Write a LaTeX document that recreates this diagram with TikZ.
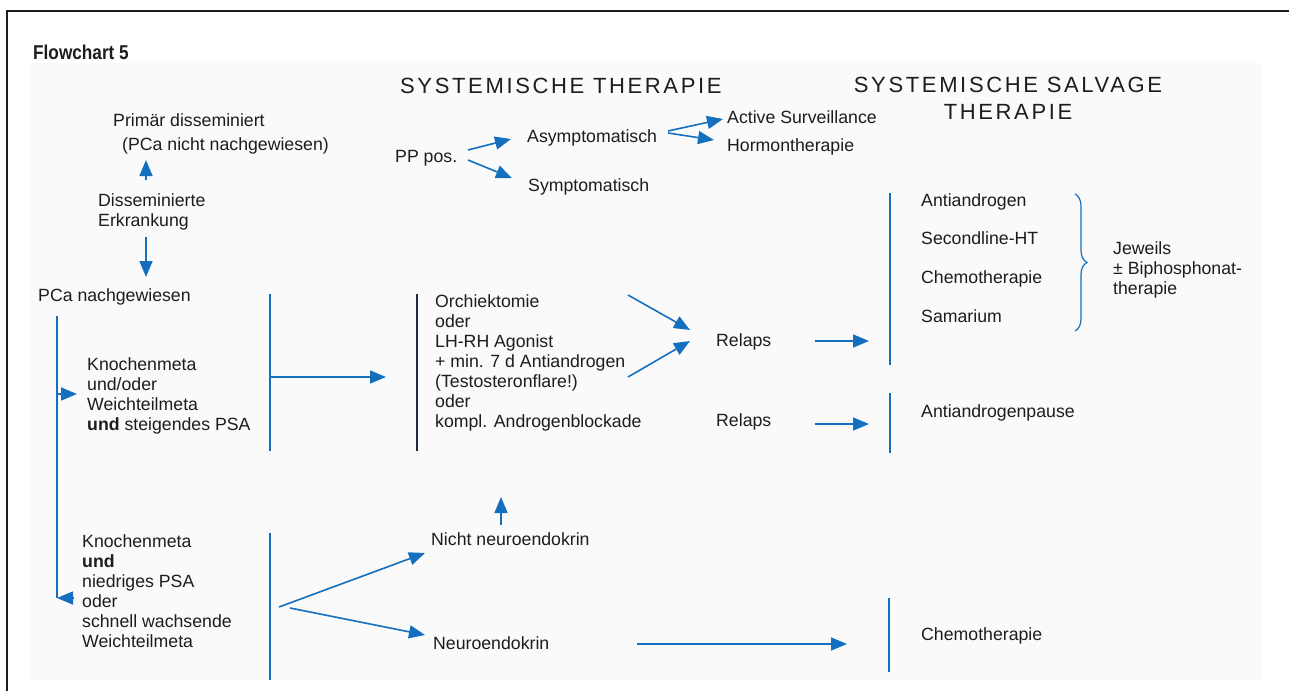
\documentclass[tikz,border=0pt]{standalone}
\usepackage{fontspec}
\setmainfont{Liberation Sans}
\usetikzlibrary{arrows.meta,decorations.pathreplacing}
\definecolor{fcblue}{RGB}{20,112,190}
\definecolor{fctext}{RGB}{30,28,30}
\definecolor{fcdark}{RGB}{30,40,70}
\definecolor{fcpanel}{RGB}{250,250,250}
\begin{document}
\begin{tikzpicture}[x=1pt,y=-1pt,
 txt/.style={anchor=north west, inner sep=0pt, align=left, text=fctext, font=\fontsize{17.7}{20}\selectfont},
 headtxt/.style={inner sep=0pt, align=center, text=fctext, font=\fontsize{22}{27}\selectfont\addfontfeatures{LetterSpace=12}},
 arr/.style={draw=fcblue, line width=1.6pt, -{Triangle[length=16pt,width=13pt]}},
 bar/.style={draw=fcblue, line width=1.6pt},
]
\useasboundingbox (0,0) rectangle (1289,691);
\fill[white] (0,0) rectangle (1289,691);
\fill[fcpanel] (29,63) rectangle (1263,680);
\draw[line width=1.6pt, fctext] (7,691) -- (7,11) -- (1289,11);

% titles
\node[anchor=north west, inner sep=0pt, text=fctext, font=\fontsize{20}{22}\selectfont\bfseries] (title) at (33,45) {\scalebox{0.86}[1]{Flowchart 5}};
\node[headtxt, anchor=north west] (h1) at (400,78) {SYSTEMISCHE THERAPIE};
\node[headtxt, anchor=north] (h2) at (1008,77) {SYSTEMISCHE SALVAGE\\THERAPIE};

% left column
\node[txt] (prim1) at (113,113.5) {Primär disseminiert};
\node[txt] (prim2) at (122,137.5) {(PCa nicht nachgewiesen)};
\node[txt] (diss) at (98,193.5) {Disseminierte\\Erkrankung};
\node[txt] (pca) at (38,288.5) {PCa nachgewiesen};
\node[txt] (kn1) at (87,357.5) {Knochenmeta\\und/oder\\Weichteilmeta\\\textbf{und} steigendes PSA};
\node[txt] (kn2) at (82,534.5) {Knochenmeta\\\textbf{und}\\niedriges PSA\\oder\\schnell wachsende\\Weichteilmeta};

\coordinate (dA) at (146,180);
\coordinate (dB) at (146,160);
\draw[arr] (dA) -- (dB);
\coordinate (dC) at (146,237);
\coordinate (dD) at (146,277);
\draw[arr] (dC) -- (dD);

\coordinate (v1t) at (57,316);
\coordinate (v1m) at (57,394);
\coordinate (v1b) at (57,598);
\coordinate (v1r) at (77,394);
\coordinate (v1e) at (73,598);
\draw[bar] (v1t) -- (v1b);
\draw[arr] (v1m) -- (v1r);
\draw[arr] (v1e) -- (v1b);

% second column
\coordinate (v2t) at (270,294);
\coordinate (v2b) at (270,451);
\draw[bar] (v2t) -- (v2b);
\coordinate (v2m) at (270,377);
\coordinate (v2r) at (386,377);
\draw[arr] (v2m) -- (v2r);
\draw[line width=1.8pt, fcdark] (417,294) coordinate (v3t) -- (417,451) coordinate (v3b);

\node[txt] (orch) at (435,294.5) {Orchiektomie\\oder\\LH-RH Agonist\\+ min. 7 d Antiandrogen\\(Testosteronflare!)\\oder\\kompl. Androgenblockade};
\node[txt] (rel1) at (716,333.5) {Relaps};
\node[txt] (rel2) at (716,413.5) {Relaps};
\coordinate (o1) at (628,295);
\coordinate (o1e) at (690,330);
\coordinate (o2) at (628,377);
\coordinate (o2e) at (690,341);
\draw[arr] (o1) -- (o1e);
\draw[arr] (o2) -- (o2e);
\coordinate (r1a) at (815,341);
\coordinate (r1b) at (869,341);
\coordinate (r2a) at (815,424);
\coordinate (r2b) at (869,424);
\draw[arr] (r1a) -- (r1b);
\draw[arr] (r2a) -- (r2b);

% top systemic
\node[txt] (pp) at (395,150.5) {PP pos.};
\node[txt] (asym) at (527,129.5) {Asymptomatisch};
\node[txt] (sym) at (528,178.5) {Symptomatisch};
\node[txt] (act) at (727,110.5) {Active Surveillance};
\node[txt] (horm) at (727,138.5) {Hormontherapie};
\coordinate (p1) at (468,150);
\coordinate (p1e) at (511,139);
\coordinate (p2) at (468,160);
\coordinate (p2e) at (512,178);
\draw[arr] (p1) -- (p1e);
\draw[arr] (p2) -- (p2e);
\coordinate (a1) at (668,131);
\coordinate (a1e) at (723,119);
\coordinate (a2) at (668,133);
\coordinate (a2e) at (714,140);
\draw[arr] (a1) -- (a1e);
\draw[arr] (a2) -- (a2e);

% salvage
\draw[bar] (890,193) coordinate (v4t) -- (890,365) coordinate (v4b);
\draw[bar] (890,393) coordinate (v5t) -- (890,453) coordinate (v5b);
\node[txt] (anti) at (921,193.5) {Antiandrogen};
\node[txt] (second) at (921,231.5) {Secondline-HT};
\node[txt] (chemo1) at (921,270.5) {Chemotherapie};
\node[txt] (sam) at (921,309.5) {Samarium};
\draw[draw=fcblue, line width=1.2pt, decorate, decoration={brace, amplitude=12pt}] (1075,194) coordinate (brt) -- (1075,331) coordinate (brb);
\node[txt] (jew) at (1113,241.5) {Jeweils\\± Biphosphonat-\\therapie};
\node[txt] (pause) at (921,404.5) {Antiandrogenpause};

% lower branch
\coordinate (v6t) at (270,533);
\coordinate (v6b) at (270,680);
\draw[bar] (v6t) -- (v6b);
\node[txt] (nicht) at (431,532.5) {Nicht neuroendokrin};
\node[txt] (neuro) at (433,636.5) {Neuroendokrin};
\coordinate (s1) at (279,607);
\coordinate (s1e) at (425,553);
\coordinate (s2) at (290,608);
\coordinate (s2e) at (425,635);
\draw[arr] (s1) -- (s1e);
\draw[arr] (s2) -- (s2e);
\coordinate (n1) at (501,525);
\coordinate (n1e) at (501,497);
\draw[arr] (n1) -- (n1e);
\coordinate (ne1) at (637,644);
\coordinate (ne1e) at (847,644);
\draw[arr] (ne1) -- (ne1e);
\draw[bar] (889,598) coordinate (v7t) -- (889,672) coordinate (v7b);
\node[txt] (chemo2) at (921,627.5) {Chemotherapie};
\end{tikzpicture}
\end{document}
